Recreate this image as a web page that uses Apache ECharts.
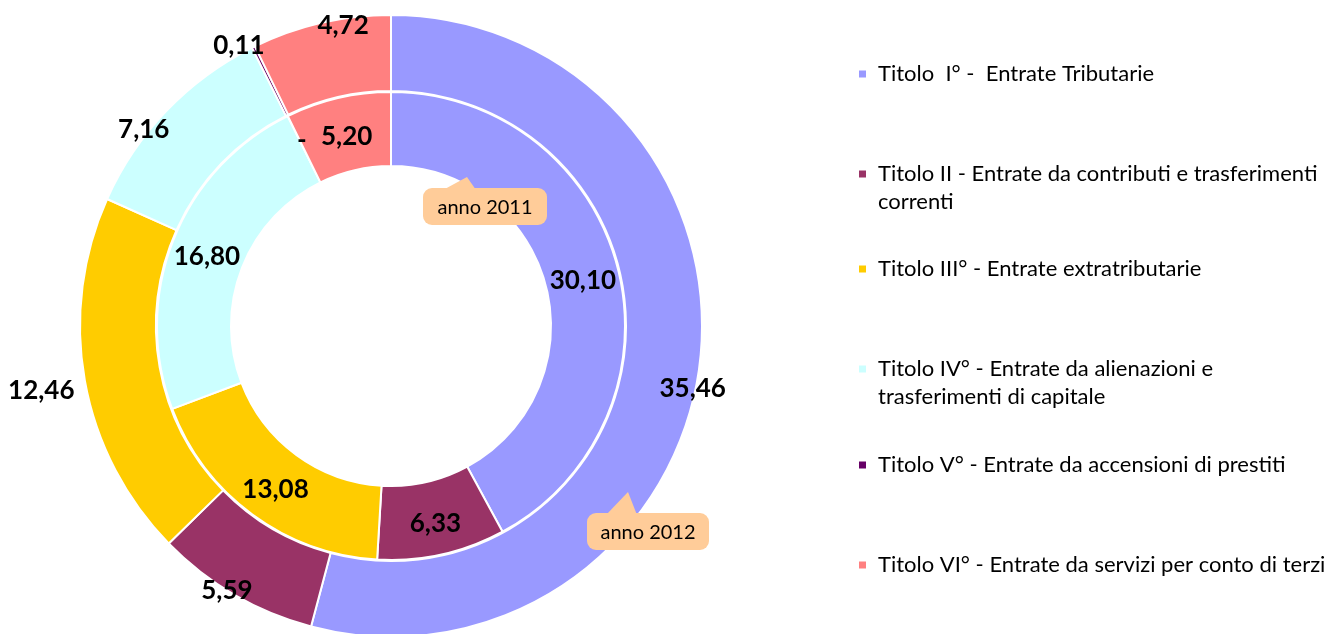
<!DOCTYPE html>
<html>
<head>
<meta charset="utf-8">
<script src="https://cdn.jsdelivr.net/npm/echarts@6/dist/echarts.min.js"></script>
<style>
  html, body { margin: 0; padding: 0; background: #fff; }
  #chart { width: 1330px; height: 634px; }
</style>
</head>
<body>
<div id="chart"></div>
<script>
// categorie (titoli di entrata)
const categories = [
  'Titolo  I° -  Entrate Tributarie',
  'Titolo II - Entrate da contributi e trasferimenti correnti',
  'Titolo III° - Entrate extratributarie',
  'Titolo IV° - Entrate da alienazioni e trasferimenti di capitale',
  'Titolo V° - Entrate da accensioni di prestiti',
  'Titolo VI° - Entrate da servizi per conto di terzi'
];
// righe della legenda (a capo come nell'originale)
const legendLines = [
  ['Titolo  I° -  Entrate Tributarie'],
  ['Titolo II - Entrate da contributi e trasferimenti', 'correnti'],
  ['Titolo III° - Entrate extratributarie'],
  ['Titolo IV° - Entrate da alienazioni e', 'trasferimenti di capitale'],
  ['Titolo V° - Entrate da accensioni di prestiti'],
  ['Titolo VI° - Entrate da servizi per conto di terzi']
];
const values2011 = [30.10, 6.33, 13.08, 16.80, 0, 5.20];   // anello interno
const values2012 = [35.46, 5.59, 12.46, 7.16, 0.11, 4.72]; // anello esterno

const colors = ['#9999FF', '#993366', '#FFCC00', '#CCFFFF', '#660066', '#FF8080'];

// spostamento etichette rispetto alla posizione "inside"
const shiftInner = [[-2, 4], [1, 2], [3, 2], [2, 4], [-1, -6], [1, 5]];
const shiftOuter = [[28, 27], [-25, 26], [-78, 16], [-48, -5], [-30, -33], [14, -31]];
// posizione verticale delle voci di legenda
const legendTop = [63, 135, 258, 330, 454, 554];

function fmt(v) {
  return v === 0 ? '-' : v.toFixed(2).replace('.', ',');
}

const labelStyle = {
  show: true,
  position: 'inside',
  color: '#000',
  fontFamily: 'Lato',
  fontWeight: 'bold',
  fontSize: 26,
  formatter: p => fmt(p.value)
};

const chart = echarts.init(document.getElementById('chart'));

const legends = categories.map((name, i) => ({
  data: [name],
  left: 857,
  top: legendTop[i],
  padding: 0,
  orient: 'vertical',
  icon: 'rect',
  itemWidth: 9,
  itemHeight: 9,
  selectedMode: false,
  formatter: n => {
    const lines = legendLines[categories.indexOf(n)];
    const body = lines.map(l => '{t|' + l + '}').join('\n');
    return lines.length > 1 ? '{t| }\n' + body : body;
  },
  textStyle: {
    rich: {
      t: {
        fontFamily: 'Lato',
        fontSize: 22,
        color: '#000',
        lineHeight: 28,
        padding: [0, 0, 0, 6]
      }
    }
  }
}));

function callout(x, y, w, h, tip, baseL, baseR, text) {
  return {
    type: 'group',
    z: 100,
    children: [
      {
        type: 'polygon',
        z: 100,
        shape: { points: [[baseL, y + 2], tip, [baseR, y + 2]] },
        style: { fill: '#FFCC99' }
      },
      {
        type: 'rect',
        z: 100,
        shape: { x: x, y: y, width: w, height: h, r: 9 },
        style: { fill: '#FFCC99' }
      },
      {
        type: 'text',
        z: 101,
        x: x + w / 2,
        y: y + h / 2 + 1,
        style: {
          text: text,
          fontFamily: 'Lato',
          fontSize: 20,
          fill: '#000',
          align: 'center',
          verticalAlign: 'middle'
        }
      }
    ]
  };
}

const option = {
  color: colors,
  animation: false,
  legend: legends,
  series: [
    {
      name: 'anno 2011',
      type: 'pie',
      center: [391, 326],
      radius: [160, 234],
      startAngle: 90,
      itemStyle: { borderColor: '#fff', borderWidth: 2 },
      label: labelStyle,
      labelLine: { show: false },
      labelLayout: p => ({ dx: shiftInner[p.dataIndex][0], dy: shiftInner[p.dataIndex][1] }),
      data: categories.map((c, i) => ({ name: c, value: values2011[i] }))
    },
    {
      name: 'anno 2012',
      type: 'pie',
      center: [391, 326],
      radius: [235, 311],
      startAngle: 90,
      itemStyle: { borderColor: '#fff', borderWidth: 2 },
      label: labelStyle,
      labelLine: { show: false },
      labelLayout: p => ({ dx: shiftOuter[p.dataIndex][0], dy: shiftOuter[p.dataIndex][1] }),
      data: categories.map((c, i) => ({ name: c, value: values2012[i] }))
    }
  ],
  graphic: [
    callout(423, 188, 124, 37, [467, 177], 443, 476, 'anno 2011'),
    callout(587, 513, 122, 37, [628, 492], 606, 637, 'anno 2012')
  ]
};

chart.setOption(option);
</script>
</body>
</html>
